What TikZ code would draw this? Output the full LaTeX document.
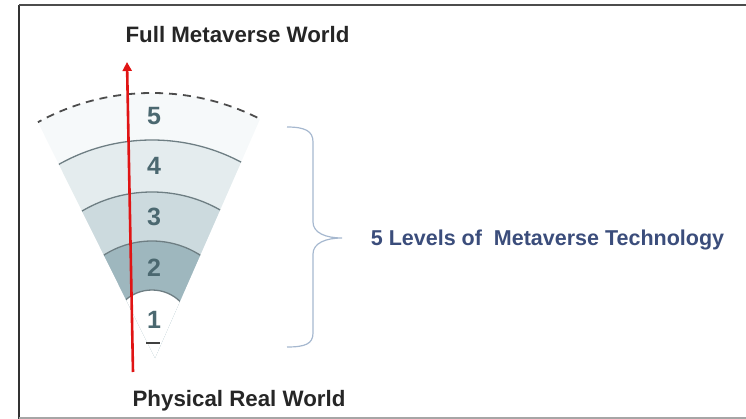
\documentclass[tikz,border=0pt]{standalone}
\usepackage{fontspec}
\setmainfont{Liberation Sans}
\usetikzlibrary{arrows.meta}
\definecolor{lvfive}{HTML}{F6F9FA}
\definecolor{lvfour}{HTML}{E4ECEE}
\definecolor{lvthree}{HTML}{CCDADE}
\definecolor{lvtwo}{HTML}{9EB7BE}
\definecolor{lvone}{HTML}{FCFDFD}
\definecolor{arcgray}{HTML}{6E7E83}
\definecolor{numcol}{HTML}{4B6870}
\definecolor{titlecol}{HTML}{262626}
\definecolor{bluecol}{HTML}{3B4D7B}
\definecolor{bracecol}{HTML}{A6B8CF}
\definecolor{redcol}{HTML}{E01414}
\tikzset{
  titletext/.style={font=\fontsize{22.3}{25}\selectfont\bfseries, text=titlecol, anchor=base, inner sep=0pt},
  numtext/.style={font=\fontsize{25}{28}\selectfont\bfseries, text=numcol, anchor=base, inner sep=0pt},
  bluetext/.style={font=\fontsize{21.5}{24}\selectfont\bfseries, text=bluecol, anchor=base, inner sep=0pt},
  levelarc/.style={draw=arcgray, line width=1.3pt},
  dasharc/.style={draw=black!70, line width=1.8pt, dash pattern=on 8pt off 6pt},
  braceline/.style={draw=bracecol, line width=1.2pt},
  redarrow/.style={draw=redcol, line width=2.6pt, -{Triangle[length=9pt,width=9pt]}}
}
\begin{document}
\begin{tikzpicture}[x=1pt,y=-1pt]
\useasboundingbox (0,0) rectangle (746,419);
% frame
\draw[black!80, line width=1.6pt] (19,5) -- (19,419);
\draw[black!70, line width=1.6pt] (19,5) -- (746,5);
\draw[black!35, line width=1.4pt] (19,418) -- (746,418);
% fan
\coordinate (c) at (152,330);
\begin{scope}
  \clip (155,358) -- (7,60) -- (286,60) -- cycle;
  \fill[lvfive] (c) circle[radius=237];
  \fill[lvfour] (c) circle[radius=190];
  \fill[lvthree] (c) circle[radius=138];
  \fill[lvtwo] (c) circle[radius=89];
  \fill[white] (c) circle[radius=40];
  \begin{scope}
    \clip (0,0) rectangle (300,312);
    \draw[levelarc] (c) circle[radius=190];
    \draw[levelarc] (c) circle[radius=138];
    \draw[levelarc] (c) circle[radius=89];
    \draw[levelarc] (c) circle[radius=40];
    \draw[dasharc] (c) circle[radius=237];
  \end{scope}
\end{scope}
% numbers
\node[numtext] (n5) at (154,125) {5};
\node[numtext] (n4) at (154,175) {4};
\node[numtext] (n3) at (154,226) {3};
\node[numtext] (n2) at (154,277) {2};
\node[numtext] (n1) at (154,328) {1};
\coordinate (dl) at (146,343);
\coordinate (dr) at (160,343);
\draw[black!75, line width=1.6pt] (dl) -- (dr);
% titles
\node[titletext] (full) at (237.5,43) {Full Metaverse World};
\node[titletext] (phys) at (239,406) {Physical Real World};
% red arrow
\coordinate (abot) at (133,372);
\coordinate (atop) at (127,62);
\draw[redarrow] (abot) -- (atop);
% brace
\coordinate (btop) at (287,127);
\coordinate (btip) at (342,238);
\coordinate (bbot) at (287,347);
\draw[braceline] (btop) .. controls (305,127) and (313,131) .. (313,142)
  -- (313,222) .. controls (313,233) and (326,238) .. (btip)
  .. controls (326,238) and (313,243) .. (313,254)
  -- (313,333) .. controls (313,344) and (305,347) .. (bbot);
% label
\node[bluetext] (lvl) at (547.5,246) {5 Levels of\ \ Metaverse Technology};
\end{tikzpicture}
\end{document}
